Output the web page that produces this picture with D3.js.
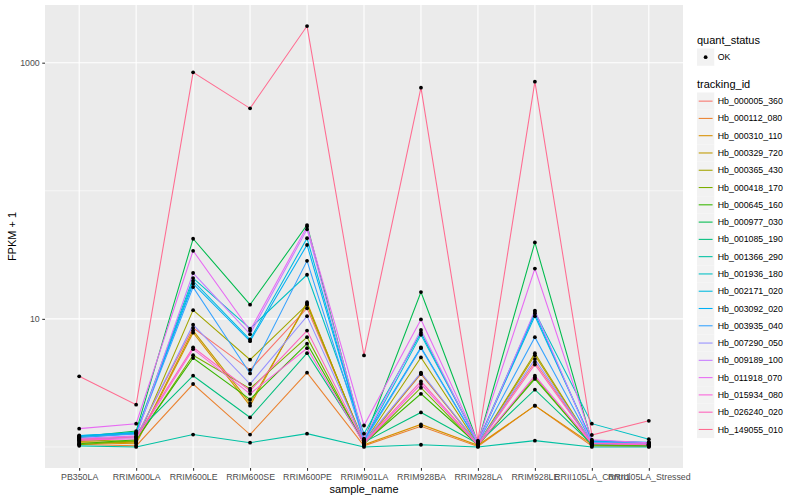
<!DOCTYPE html>
<html>
<head>
<meta charset="utf-8">
<script src="https://cdn.jsdelivr.net/npm/d3@7"></script>
<style>
  body { margin: 0; background: #fff; }
  text { font-family: "Liberation Sans", Arial, sans-serif; }
</style>
</head>
<body>
<svg id="chart" width="800" height="500"></svg>
<script>
// samples on the x axis
const samples = ["PB350LA", "RRIM600LA", "RRIM600LE", "RRIM600SE", "RRIM600PE", "RRIM901LA",
  "RRIM928BA", "RRIM928LA", "RRIM928LE", "RRII105LA_Control", "RRII105LA_Stressed"];

const trackingIds = ["Hb_000005_360", "Hb_000112_080", "Hb_000310_110", "Hb_000329_720", "Hb_000365_430",
  "Hb_000418_170", "Hb_000645_160", "Hb_000977_030", "Hb_001085_190", "Hb_001366_290",
  "Hb_001936_180", "Hb_002171_020", "Hb_003092_020", "Hb_003935_040", "Hb_007290_050",
  "Hb_009189_100", "Hb_011918_070", "Hb_015934_080", "Hb_026240_020", "Hb_149055_010"];

// FPKM + 1, one row per tracking id, one value per sample
const fpkm = [
  [1.12, 1.20, 8.5, 4.0, 12.1, 1.10, 3.7, 1.06, 4.6, 1.08, 1.04],
  [1.05, 1.02, 3.1, 1.25, 3.8, 1.02, 1.45, 1.01, 2.1, 1.02, 1.01],
  [1.08, 1.06, 7.8, 2.1, 13.5, 1.04, 1.5, 1.03, 2.1, 1.05, 1.02],
  [1.10, 1.08, 8.1, 2.2, 13.1, 1.06, 3.75, 1.04, 5.2, 1.06, 1.03],
  [1.14, 1.10, 11.7, 4.8, 12.9, 1.08, 5.0, 1.05, 5.4, 1.07, 1.05],
  [1.04, 1.12, 5.2, 2.85, 7.2, 1.05, 2.9, 1.02, 3.5, 1.03, 1.02],
  [1.06, 1.14, 4.95, 2.35, 6.4, 1.07, 2.6, 1.04, 3.4, 1.04, 1.03],
  [1.20, 1.33, 42.2, 12.9, 54, 1.12, 16.2, 1.08, 39.5, 1.10, 1.06],
  [1.18, 1.28, 3.6, 1.7, 5.4, 1.09, 1.86, 1.06, 2.8, 1.05, 1.04],
  [1.02, 1.00, 1.25, 1.08, 1.27, 1.00, 1.04, 1.00, 1.12, 1.00, 1.00],
  [1.22, 1.30, 20.8, 8.4, 22.1, 1.27, 7.8, 1.10, 11.3, 1.52, 1.15],
  [1.21, 1.27, 19.8, 6.9, 42.6, 1.13, 7.5, 1.09, 10.5, 1.12, 1.08],
  [1.23, 1.29, 18.8, 6.7, 37.8, 1.14, 6.0, 1.08, 11.0, 1.11, 1.09],
  [1.19, 1.26, 17.7, 3.75, 28.4, 1.11, 5.9, 1.07, 7.2, 1.09, 1.07],
  [1.16, 1.18, 9.0, 3.1, 10.5, 1.10, 3.8, 1.05, 4.85, 1.08, 1.06],
  [1.17, 1.22, 22.8, 7.6, 50, 1.16, 8.2, 1.07, 11.6, 1.07, 1.05],
  [1.39, 1.52, 34.0, 8.1, 52.5, 1.47, 9.9, 1.10, 24.7, 1.14, 1.08],
  [1.13, 1.16, 5.8, 2.6, 5.9, 1.06, 3.1, 1.03, 3.6, 1.06, 1.04],
  [1.15, 1.20, 6.0, 2.75, 8.1, 1.08, 3.25, 1.04, 4.4, 1.07, 1.05],
  [3.56, 2.14, 841, 440, 1932, 5.18, 638, 1.12, 711, 1.24, 1.6]
];

const yTicks = [10, 1000];
const yMinor = [1, 100];
const quantStatus = ["OK"];

// ggplot default hue palette
const colors = ["#F8766D", "#EA8331", "#D89000", "#C09B00", "#A3A500", "#7CAE00", "#39B600", "#00BB4E",
  "#00BF7D", "#00C1A3", "#00BFC4", "#00BAE0", "#00B0F6", "#35A2FF", "#9590FF", "#C77CFF",
  "#E76BF3", "#FA62DB", "#FF62BC", "#FF6C91"];

const panel = {left: 45, right: 683, top: 5, bottom: 468};
const svg = d3.select("#chart");

const series = trackingIds.map((id, i) => ({id: id, color: colors[i],
  values: samples.map((s, j) => ({sample: s, v: fpkm[i][j]}))}));

const x = d3.scalePoint().domain(samples).range([panel.left, panel.right]).padding(0.6);

const logExt = d3.extent(fpkm.flat().map(v => Math.log10(v)));
const pad = (logExt[1] - logExt[0]) * 0.05;
const y = d3.scaleLog()
  .domain([Math.pow(10, logExt[0] - pad), Math.pow(10, logExt[1] + pad)])
  .range([panel.bottom, panel.top]);

const color = d3.scaleOrdinal().domain(trackingIds).range(colors);

// panel background + grid
svg.append("rect").attr("x", panel.left).attr("y", panel.top)
  .attr("width", panel.right - panel.left).attr("height", panel.bottom - panel.top)
  .attr("fill", "#EBEBEB");

svg.append("g").selectAll("line").data(yMinor).enter().append("line")
  .attr("x1", panel.left).attr("x2", panel.right)
  .attr("y1", d => y(d)).attr("y2", d => y(d))
  .attr("stroke", "#fff").attr("stroke-width", 0.55);

svg.append("g").selectAll("line").data(yTicks).enter().append("line")
  .attr("x1", panel.left).attr("x2", panel.right)
  .attr("y1", d => y(d)).attr("y2", d => y(d))
  .attr("stroke", "#fff").attr("stroke-width", 1.1);

svg.append("g").selectAll("line").data(samples).enter().append("line")
  .attr("x1", d => x(d)).attr("x2", d => x(d))
  .attr("y1", panel.top).attr("y2", panel.bottom)
  .attr("stroke", "#fff").attr("stroke-width", 1.1);

// lines
const line = d3.line().x(d => x(d.sample)).y(d => y(d.v));
svg.append("g").selectAll("path").data(series).enter().append("path")
  .attr("d", d => line(d.values))
  .attr("fill", "none")
  .attr("stroke", d => color(d.id))
  .attr("stroke-width", 1.07);

// points
svg.append("g").selectAll("circle").data(series.flatMap(s => s.values)).enter().append("circle")
  .attr("cx", d => x(d.sample)).attr("cy", d => y(d.v))
  .attr("r", 1.9).attr("fill", "#000");

// axes
const xAxis = svg.append("g").attr("transform", `translate(0,${panel.bottom})`)
  .call(d3.axisBottom(x).tickSize(2.75).tickPadding(3));
const yAxis = svg.append("g").attr("transform", `translate(${panel.left},0)`)
  .call(d3.axisLeft(y).tickValues(yTicks).tickFormat(d3.format("d")).tickSize(2.75).tickPadding(2.5));
[xAxis, yAxis].forEach(a => {
  a.select(".domain").remove();
  a.selectAll(".tick line").attr("stroke", "#333333").attr("stroke-width", 1.07);
  a.selectAll(".tick text").attr("fill", "#4D4D4D").style("font-size", "8.8px");
});

svg.append("text").attr("x", (panel.left + panel.right) / 2).attr("y", 493)
  .attr("text-anchor", "middle").style("font-size", "11px").attr("fill", "#000")
  .text("sample_name");
svg.append("text").attr("transform", `translate(16,${(panel.top + panel.bottom) / 2}) rotate(-90)`)
  .attr("text-anchor", "middle").style("font-size", "11px").attr("fill", "#000")
  .text("FPKM + 1");

// legends
const lg = svg.append("g").attr("transform", "translate(697,0)");
const key = 17.28;
lg.append("text").attr("x", 0).attr("y", 44).style("font-size", "11px").text("quant_status");
const q = lg.append("g").selectAll("g").data(quantStatus).enter().append("g")
  .attr("transform", (d, i) => `translate(0,${48.5 + i * key})`);
q.append("rect").attr("width", key).attr("height", key).attr("fill", "#F2F2F2");
q.append("circle").attr("cx", key / 2).attr("cy", key / 2).attr("r", 1.9).attr("fill", "#000");
q.append("text").attr("x", key + 3.5).attr("y", key / 2).attr("dy", "0.35em")
  .style("font-size", "8.8px").text(d => d);

lg.append("text").attr("x", 0).attr("y", 88).style("font-size", "11px").text("tracking_id");
const t = lg.append("g").selectAll("g").data(trackingIds).enter().append("g")
  .attr("transform", (d, i) => `translate(0,${92.5 + i * key})`);
t.append("rect").attr("width", key).attr("height", key).attr("fill", "#F2F2F2");
t.append("line").attr("x1", 1.7).attr("x2", key - 1.7).attr("y1", key / 2).attr("y2", key / 2)
  .attr("stroke", d => color(d)).attr("stroke-width", 1.07);
t.append("text").attr("x", key + 3.5).attr("y", key / 2).attr("dy", "0.35em")
  .style("font-size", "8.8px").text(d => d);
</script>
</body>
</html>
